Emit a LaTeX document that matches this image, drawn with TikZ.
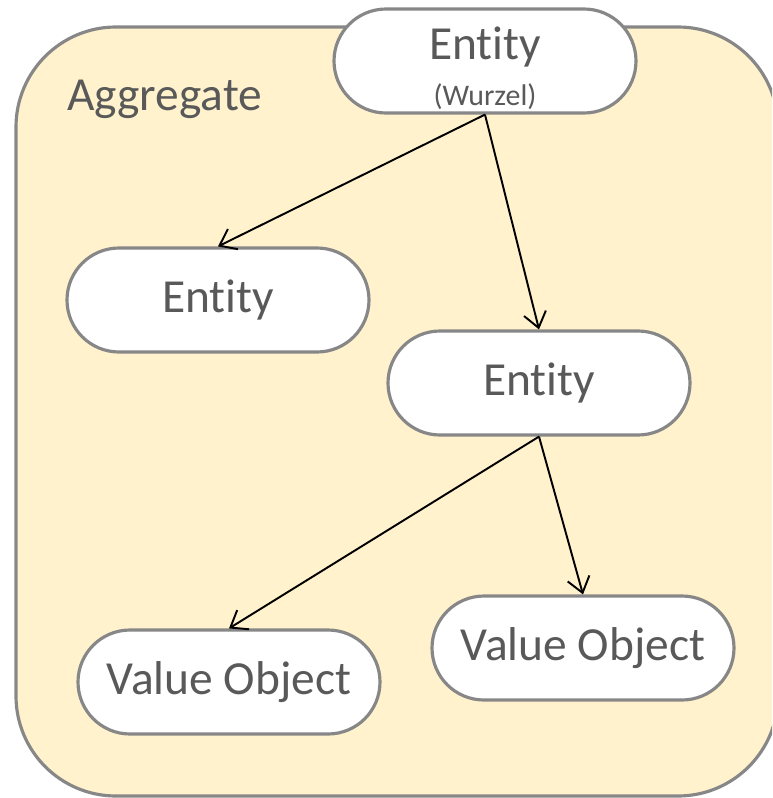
\documentclass[tikz,border=0pt]{standalone}
\usepackage{fontspec}
\setmainfont{Carlito}[Ligatures=NoCommon]
\usepackage{tikz}
\usetikzlibrary{positioning,arrows.meta}
\definecolor{aggfill}{HTML}{FFF2CC}
\definecolor{edge}{HTML}{878787}
\definecolor{ink}{HTML}{595959}

\begin{document}
\begin{tikzpicture}[font=\fontsize{27}{32}\selectfont,
  pill/.style={draw=edge,line width=1.8pt,fill=white,text=ink,rounded corners=1.04cm,
    minimum width=6.04cm,minimum height=2.08cm,inner sep=0pt,align=center},
  link/.style={black,line width=1.1pt,-{Straight Barb[length=3mm,width=4.5mm]}}]
\useasboundingbox (0,0) rectangle (15.44,-15.96);
\begin{scope}
\clip (0,0) rectangle (15.44,-15.96);
\draw[edge,fill=aggfill,line width=1.8pt,rounded corners=2cm] (0.32,-0.54) rectangle (15.56,-15.92);
\end{scope}
\node[ink,anchor=base west] (agg) at (1.22,-2.2) {Aggregate};
\node[pill] (root) at (9.7,-1.22) {\rule{0pt}{27pt}Entity\\[-6pt]{\fontsize{17}{20}\selectfont (Wurzel)}};
\node[pill] (left) at (4.36,-6.0) {Entity};
\node[pill] (mid) at (10.78,-7.66) {Entity};
\node[pill] (vol) at (4.58,-13.64) {Value Object};
\node[pill] (vor) at (11.66,-12.96) {Value Object};
\foreach \a/\b in {root/left, root/mid, mid/vol, mid/vor}
  {\draw[link] (\a.south) -- (\b.north);}
\end{tikzpicture}
\end{document}
